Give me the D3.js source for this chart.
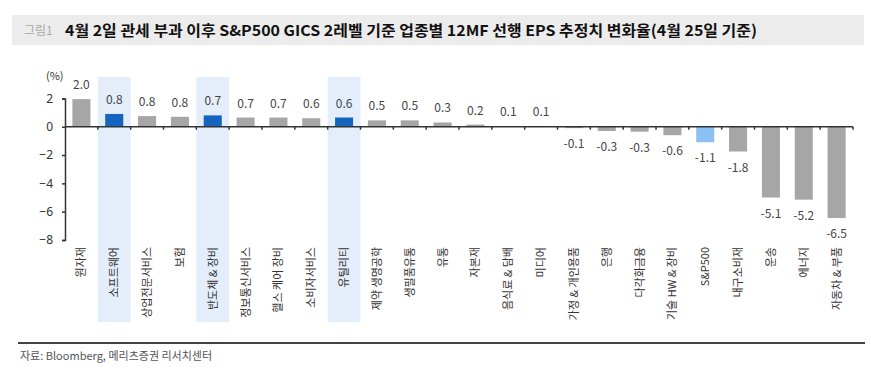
<!DOCTYPE html>
<html>
<head>
<meta charset="utf-8">
<script src="https://d3js.org/d3.v7.min.js"></script>
<style>
    body { margin: 0; background: white; }
    svg text { font-family: "Noto Sans CJK KR", "Noto Sans", sans-serif; }
</style>
</head>
<body>
<div id="chart"></div>
<script>
    // sectors, ordered as in the picture
    var sectors = ["원자재", "소프트웨어", "상업전문서비스", "보험", "반도체 & 장비", "정보통신서비스",
                   "헬스 케어 장비", "소비자서비스", "유틸리티", "제약 생명공학", "생필품유통", "유통",
                   "자본재", "음식료 & 담배", "미디어", "가정 & 개인용품", "은행", "다각화금융",
                   "기술 HW & 장비", "S&P500", "내구소비재", "운송", "에너지", "자동차 & 부품"];
    var changes = [2.0, 0.8, 0.8, 0.8, 0.7, 0.7, 0.7, 0.6, 0.6, 0.5, 0.5, 0.3,
                   0.2, 0.1, 0.1, -0.1, -0.3, -0.3, -0.6, -1.1, -1.8, -5.1, -5.2, -6.5];
    // bar heights as drawn (labels are rounded)
    var barValues = [1.95, 0.9, 0.75, 0.7, 0.8, 0.65, 0.65, 0.6, 0.65, 0.45, 0.45, 0.3,
                     0.15, 0.05, 0.05, -0.1, -0.3, -0.35, -0.6, -1.1, -1.75, -5.0, -5.15, -6.45];
    var highlighted = ["소프트웨어", "반도체 & 장비", "유틸리티"];
    var yTicks = [2, 0, -2, -4, -6, -8];

    var W = 871, H = 377;
    var svg = d3.select("#chart").append("svg").attr("width", W).attr("height", H);

    // title bar
    svg.append("rect").attr("x", 12).attr("y", 15).attr("width", 852).attr("height", 30).attr("fill", "#ececec");
    svg.append("text").attr("x", 24).attr("y", 35).attr("font-size", 12).attr("fill", "#a8a8a8").text("그림1");
    svg.append("text").attr("x", 65).attr("y", 36).attr("font-size", 15).attr("font-weight", "bold")
       .attr("fill", "#111").attr("textLength", 692).attr("lengthAdjust", "spacingAndGlyphs")
       .text("4월 2일 관세 부과 이후 S&P500 GICS 2레벨 기준 업종별 12MF 선행 EPS 추정치 변화율(4월 25일 기준)");

    var x = d3.scaleBand().domain(sectors).range([65, 853]).paddingInner(0);
    var y = d3.scaleLinear().domain([-8, 2]).range([240, 98.4]);

    // highlight bands
    svg.selectAll("rect.hl").data(highlighted).enter().append("rect")
       .attr("class", "hl")
       .attr("x", function(d){ return x(d); })
       .attr("y", 77)
       .attr("width", x.bandwidth())
       .attr("height", 245)
       .attr("fill", "#e3eefa");

    var barW = x.bandwidth() * 0.55;
    svg.selectAll("rect.bar").data(sectors).enter().append("rect")
       .attr("class", "bar")
       .attr("x", function(d){ return x(d) + (x.bandwidth() - barW) / 2; })
       .attr("y", function(d, i){ return y(Math.max(0, barValues[i])); })
       .attr("width", barW)
       .attr("height", function(d, i){ return Math.abs(y(barValues[i]) - y(0)); })
       .attr("fill", function(d){
           if(d == "S&P500") return "#8cc0f2";
           if(highlighted.indexOf(d) >= 0) return "#1565c0";
           return "#a6a6a6";
       });

    // value labels
    svg.selectAll("text.val").data(sectors).enter().append("text")
       .attr("class", "val")
       .attr("x", function(d){ return x(d) + x.bandwidth() / 2; })
       .attr("y", function(d, i){
           var v = barValues[i];
           return v >= 0 ? y(v) - 10 : y(v) + 20;
       })
       .attr("text-anchor", "middle")
       .attr("font-size", 12)
       .attr("fill", "#444")
       .text(function(d, i){ return changes[i].toFixed(1); });

    // y axis
    var yAxis = svg.append("g").attr("transform", "translate(65,0)")
       .call(d3.axisLeft(y).tickValues(yTicks).tickSize(3).tickPadding(9).tickFormat(d3.format("d")));
    yAxis.select(".domain").attr("stroke", "#333").attr("stroke-width", 1.5);
    yAxis.selectAll(".tick line").attr("stroke", "#333").attr("stroke-width", 1.5);
    yAxis.selectAll(".tick text").attr("font-size", 12).attr("fill", "#333")
         .style("font-family", "'Noto Sans', sans-serif");
    svg.append("text").attr("x", 46).attr("y", 80).attr("font-size", 11).attr("fill", "#333").text("(%)");

    // x axis at zero
    svg.append("line").attr("x1", 65).attr("x2", 853).attr("y1", y(0)).attr("y2", y(0))
       .attr("stroke", "#333").attr("stroke-width", 1.5);
    svg.selectAll("line.xt").data(sectors).enter().append("line")
       .attr("class", "xt")
       .attr("x1", function(d){ return x(d) + x.bandwidth(); })
       .attr("x2", function(d){ return x(d) + x.bandwidth(); })
       .attr("y1", y(0)).attr("y2", y(0) + 3)
       .attr("stroke", "#333").attr("stroke-width", 1.5);

    // category labels, rotated
    svg.selectAll("text.cat").data(sectors).enter().append("text")
       .attr("class", "cat")
       .attr("transform", function(d){ return "translate(" + (x(d) + x.bandwidth() / 2 + 4) + ",247) rotate(-90)"; })
       .attr("text-anchor", "end")
       .attr("font-size", 11)
       .attr("fill", "#333")
       .text(function(d){ return d; });

    // footer
    svg.append("line").attr("x1", 18).attr("x2", 865).attr("y1", 343).attr("y2", 343)
       .attr("stroke", "#444").attr("stroke-width", 2);
    svg.append("text").attr("x", 20).attr("y", 360).attr("font-size", 11).attr("fill", "#555")
       .text("자료: Bloomberg, 메리츠증권 리서치센터");
</script>
</body>
</html>
